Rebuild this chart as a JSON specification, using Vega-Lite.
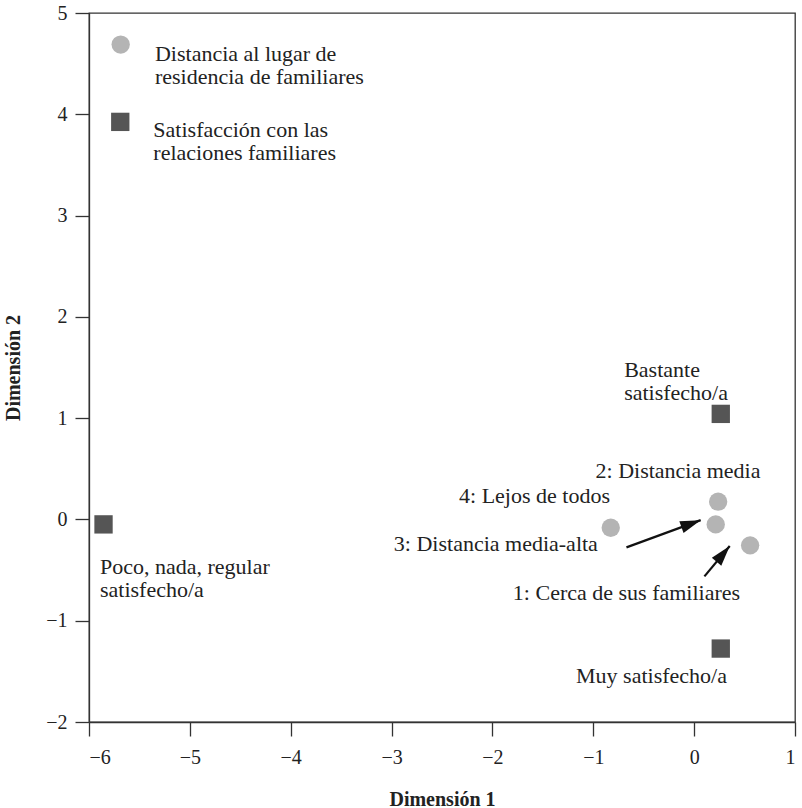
{
  "$schema": "https://vega.github.io/schema/vega-lite/v6.json",
  "width": 706,
  "height": 709,
  "autosize": {"type": "none"},
  "padding": {"left": 89, "top": 13, "right": 7, "bottom": 86},
  "background": "white",
  "config": {
    "view": {"stroke": "#333333", "strokeWidth": 1.3},
    "font": "Liberation Serif",
    "axis": {
      "domainColor": "#333333", "domainWidth": 1.3,
      "tickColor": "#333333", "tickWidth": 1.3, "tickSize": 14,
      "labelFont": "Liberation Serif", "labelFontSize": 20, "labelColor": "#222222", "labelPadding": 8,
      "titleFont": "Liberation Serif", "titleFontSize": 20, "titleFontWeight": "bold", "titleColor": "#222222",
      "grid": false, "format": "d"
    },
    "axisX": {"titlePadding": 22, "labelPadding": 11},
    "axisY": {"titlePadding": 22}
  },
  "datasets": {
    "puntos": [
      {"categoria": "1: Cerca de sus familiares", "grupo": "Distancia", "x": 0.555, "y": -0.256},
      {"categoria": "2: Distancia media", "grupo": "Distancia", "x": 0.238, "y": 0.175},
      {"categoria": "3: Distancia media-alta", "grupo": "Distancia", "x": 0.214, "y": -0.049},
      {"categoria": "4: Lejos de todos", "grupo": "Distancia", "x": -0.827, "y": -0.082},
      {"categoria": "Bastante satisfecho/a", "grupo": "Satisfacción", "x": 0.264, "y": 1.042},
      {"categoria": "Muy satisfecho/a", "grupo": "Satisfacción", "x": 0.264, "y": -1.275},
      {"categoria": "Poco, nada, regular satisfecho/a", "grupo": "Satisfacción", "x": -5.856, "y": -0.049}
    ],
    "leyenda_simbolos": [
      {"grupo": "Distancia", "x": -5.686, "y": 4.688},
      {"grupo": "Satisfacción", "x": -5.69, "y": 3.925}
    ],
    "etiquetas": [
      {"texto": "2: Distancia media", "x": -0.16, "y": 0.476},
      {"texto": "4: Lejos de todos", "x": -1.583, "y": 0.23},
      {"texto": "3: Distancia media-alta", "x": -1.966, "y": -0.247},
      {"texto": "1: Cerca de sus familiares", "x": -0.671, "y": -0.723},
      {"texto": "Muy satisfecho/a", "x": -0.423, "y": -1.545}
    ],
    "bloques": [
      {"texto": "Bastante\nsatisfecho/a", "x": -0.694, "y": 1.474},
      {"texto": "Poco, nada, regular\nsatisfecho/a", "x": -5.891, "y": -0.473},
      {"texto": "Distancia al lugar de\nresidencia de familiares", "x": -5.346, "y": 4.593},
      {"texto": "Satisfacción con las\nrelaciones familiares", "x": -5.362, "y": 3.843}
    ],
    "flechas": [
      {"id": "a", "x": -0.671, "y": -0.276, "x2": 0.065, "y2": -0.007},
      {"id": "b", "x": 0.102, "y": -0.562, "x2": 0.353, "y2": -0.263}
    ]
  },
  "layer": [
    {
      "mark": {"type": "rule", "color": "#c8c8c8", "strokeWidth": 2.5},
      "encoding": {"x": {"datum": 0, "type": "quantitative"}}
    },
    {
      "mark": {"type": "rule", "color": "#c8c8c8", "strokeWidth": 2.5},
      "encoding": {"y": {"datum": 0, "type": "quantitative"}}
    },
    {
      "data": {"name": "puntos"},
      "mark": {"type": "point", "filled": true, "opacity": 1, "size": 336, "strokeWidth": 0},
      "encoding": {
        "x": {"field": "x", "type": "quantitative", "title": "Dimensión 1", "scale": {"domain": [-6, 1], "nice": false, "zero": false}, "axis": {"values": [-6, -5, -4, -3, -2, -1, 0, 1]}},
        "y": {"field": "y", "type": "quantitative", "title": "Dimensión 2", "scale": {"domain": [-2, 5], "nice": false, "zero": false}, "axis": {"values": [-2, -1, 0, 1, 2, 3, 4, 5]}},
        "shape": {"field": "grupo", "type": "nominal", "scale": {"domain": ["Distancia", "Satisfacción"], "range": ["circle", "square"]}, "legend": null},
        "color": {"field": "grupo", "type": "nominal", "scale": {"domain": ["Distancia", "Satisfacción"], "range": ["#b4b4b4", "#555555"]}, "legend": null}
      }
    },
    {
      "data": {"name": "leyenda_simbolos"},
      "mark": {"type": "point", "filled": true, "opacity": 1, "size": 336, "strokeWidth": 0},
      "encoding": {
        "x": {"field": "x", "type": "quantitative", "title": "Dimensión 1"},
        "y": {"field": "y", "type": "quantitative", "title": "Dimensión 2"},
        "shape": {"field": "grupo", "type": "nominal", "legend": null},
        "color": {"field": "grupo", "type": "nominal", "legend": null}
      }
    },
    {
      "data": {"name": "etiquetas"},
      "mark": {"type": "text", "font": "Liberation Serif", "fontSize": 22, "color": "#222222", "align": "center", "baseline": "middle"},
      "encoding": {
        "x": {"field": "x", "type": "quantitative", "title": "Dimensión 1"},
        "y": {"field": "y", "type": "quantitative", "title": "Dimensión 2"},
        "text": {"field": "texto"}
      }
    },
    {
      "data": {"name": "bloques"},
      "mark": {"type": "text", "font": "Liberation Serif", "fontSize": 22, "color": "#222222", "align": "left", "baseline": "middle", "lineBreak": "\n", "lineHeight": 23},
      "encoding": {
        "x": {"field": "x", "type": "quantitative", "title": "Dimensión 1"},
        "y": {"field": "y", "type": "quantitative", "title": "Dimensión 2"},
        "text": {"field": "texto"}
      }
    },
    {
      "data": {"name": "flechas"},
      "mark": {"type": "rule", "color": "#111111", "strokeWidth": 2.2},
      "encoding": {
        "x": {"field": "x", "type": "quantitative", "title": "Dimensión 1"},
        "y": {"field": "y", "type": "quantitative", "title": "Dimensión 2"},
        "x2": {"field": "x2"},
        "y2": {"field": "y2"}
      }
    },
    {
      "data": {"name": "flechas"},
      "transform": [{"filter": "datum.id == 'a'"}],
      "mark": {"type": "point", "shape": "M0,0L-0.6,2L0.6,2Z", "filled": true, "opacity": 1, "color": "#111111", "size": 420, "angle": 70, "strokeWidth": 0},
      "encoding": {
        "x": {"field": "x2", "type": "quantitative", "title": "Dimensión 1"},
        "y": {"field": "y2", "type": "quantitative", "title": "Dimensión 2"}
      }
    },
    {
      "data": {"name": "flechas"},
      "transform": [{"filter": "datum.id == 'b'"}],
      "mark": {"type": "point", "shape": "M0,0L-0.6,2L0.6,2Z", "filled": true, "opacity": 1, "color": "#111111", "size": 420, "angle": 40, "strokeWidth": 0},
      "encoding": {
        "x": {"field": "x2", "type": "quantitative", "title": "Dimensión 1"},
        "y": {"field": "y2", "type": "quantitative", "title": "Dimensión 2"}
      }
    }
  ]
}
